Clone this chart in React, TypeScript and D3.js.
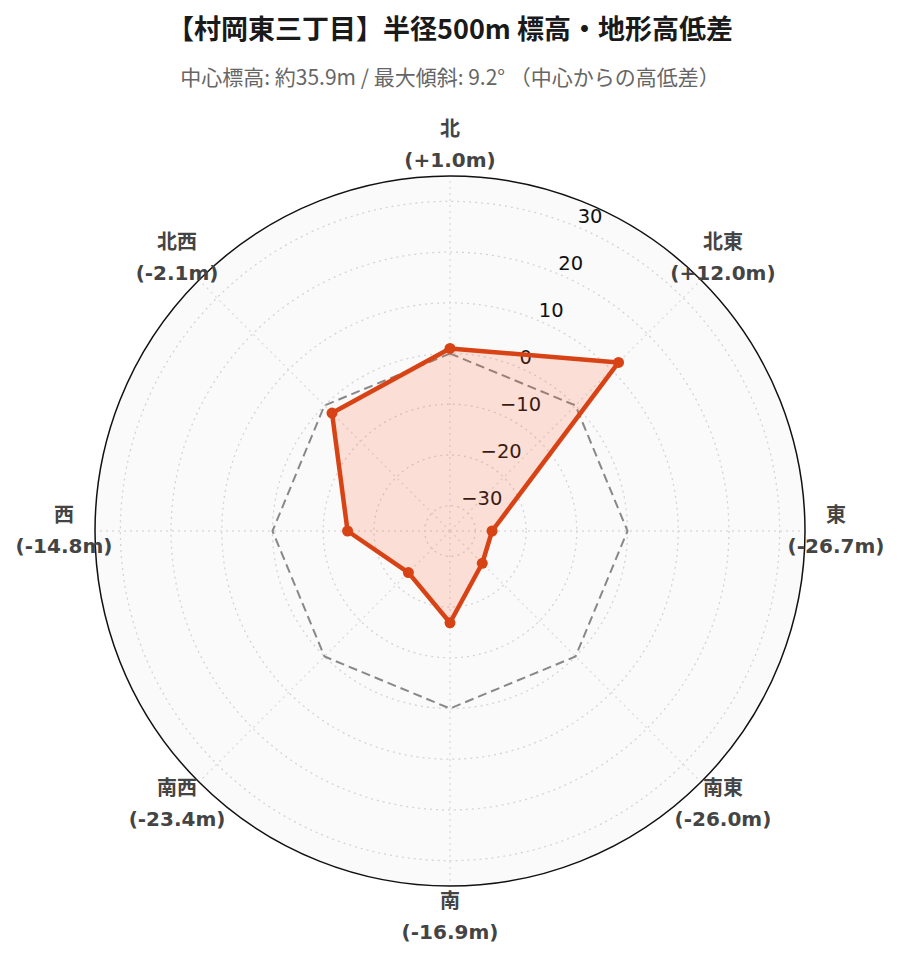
import React from "react";
import * as d3 from "d3";

const directions = ["北", "北東", "東", "南東", "南", "南西", "西", "北西"];
const diffs = [1.0, 12.0, -26.7, -26.0, -16.9, -23.4, -14.8, -2.1];
const diffLabels = ["(+1.0m)", "(+12.0m)", "(-26.7m)", "(-26.0m)", "(-16.9m)", "(-23.4m)", "(-14.8m)", "(-2.1m)"];
const referenceLevel = [0, 0, 0, 0, 0, 0, 0, 0];
const radialTicks = [-30, -20, -10, 0, 10, 20, 30];
const radialDomain = [-35, 35];
const titleText = "【村岡東三丁目】半径500m 標高・地形高低差";
const subtitleText = "中心標高: 約35.9m / 最大傾斜: 9.2° （中心からの高低差）";

const W = 899;
const H = 962;
const cx = 450;
const cy = 531;
const R = 355;
const LABEL_R = 386;
const TICK_ANGLE = 22.5;

export default function App() {
  const r = d3.scaleLinear().domain(radialDomain).range([0, R]);
  const angle = d3.scaleLinear().domain([0, directions.length]).range([0, 2 * Math.PI]);
  const pt = (i: number, rad: number): [number, number] => {
    const a = angle(i);
    return [cx + rad * Math.sin(a), cy - rad * Math.cos(a)];
  };
  const radial = d3
    .lineRadial<number>()
    .angle((_, i) => angle(i))
    .radius((d) => r(d))
    .curve(d3.curveLinearClosed);

  const ta = (TICK_ANGLE * Math.PI) / 180;
  const sans = "'DejaVu Sans', 'Noto Sans CJK JP', sans-serif";
  const cjk = "'Noto Sans CJK JP', sans-serif";

  return (
    <svg
      width={W}
      height={H}
      style={{ position: "absolute", left: 0, top: 0, background: "#fff" }}
    >
      <text x={cx} y={39} textAnchor="middle" fontFamily={cjk} fontWeight={700} fontSize={27} fill="#1a1a1a">
        {titleText}
      </text>
      <text x={cx} y={85} textAnchor="middle" fontFamily={cjk} fontSize={21} fill="#666">
        {subtitleText}
      </text>

      <circle cx={cx} cy={cy} r={R} fill="#fafafa" />
      {radialTicks.map((t) => (
        <circle
          key={"g" + t}
          cx={cx}
          cy={cy}
          r={r(t)}
          fill="none"
          stroke="#d4d4d4"
          strokeWidth={1.3}
          strokeDasharray="2 4"
        />
      ))}
      {directions.map((d, i) => {
        const [x, y] = pt(i, R);
        return (
          <line key={"s" + d} x1={cx} y1={cy} x2={x} y2={y} stroke="#dcdcdc" strokeWidth={1.3} strokeDasharray="2 4" />
        );
      })}
      <circle cx={cx} cy={cy} r={R} fill="none" stroke="#111" strokeWidth={1.5} />

      {radialTicks.map((t) => {
        const rr = r(t);
        const x = cx + rr * Math.sin(ta);
        const y = cy - rr * Math.cos(ta);
        return (
          <text key={"t" + t} x={x + 1.5} y={y - 3} fontFamily={sans} fontSize={19.5} fill="#111">
            {t < 0 ? "\u2212" + Math.abs(t) : String(t)}
          </text>
        );
      })}

      <path
        d={radial(referenceLevel) as string}
        transform={`translate(${cx},${cy})`}
        fill="none"
        stroke="#888"
        strokeWidth={2}
        strokeDasharray="9 5"
      />

      <path
        d={radial(diffs) as string}
        transform={`translate(${cx},${cy})`}
        fill="rgba(255,87,34,0.17)"
        stroke="#d84315"
        strokeWidth={4.5}
        strokeLinejoin="round"
      />
      {diffs.map((v, i) => {
        const [x, y] = pt(i, r(v));
        return <circle key={"m" + i} cx={x} cy={y} r={5.5} fill="#d84315" />;
      })}

      {directions.map((d, i) => {
        const [x, y] = pt(i, LABEL_R);
        return (
          <g key={"l" + d}>
            <text x={x} y={y - 9} textAnchor="middle" fontFamily={sans} fontWeight={700} fontSize={20} fill="#444">
              {d}
            </text>
            <text x={x} y={y + 22} textAnchor="middle" fontFamily={sans} fontWeight={700} fontSize={20} fill="#444">
              {diffLabels[i]}
            </text>
          </g>
        );
      })}
    </svg>
  );
}
